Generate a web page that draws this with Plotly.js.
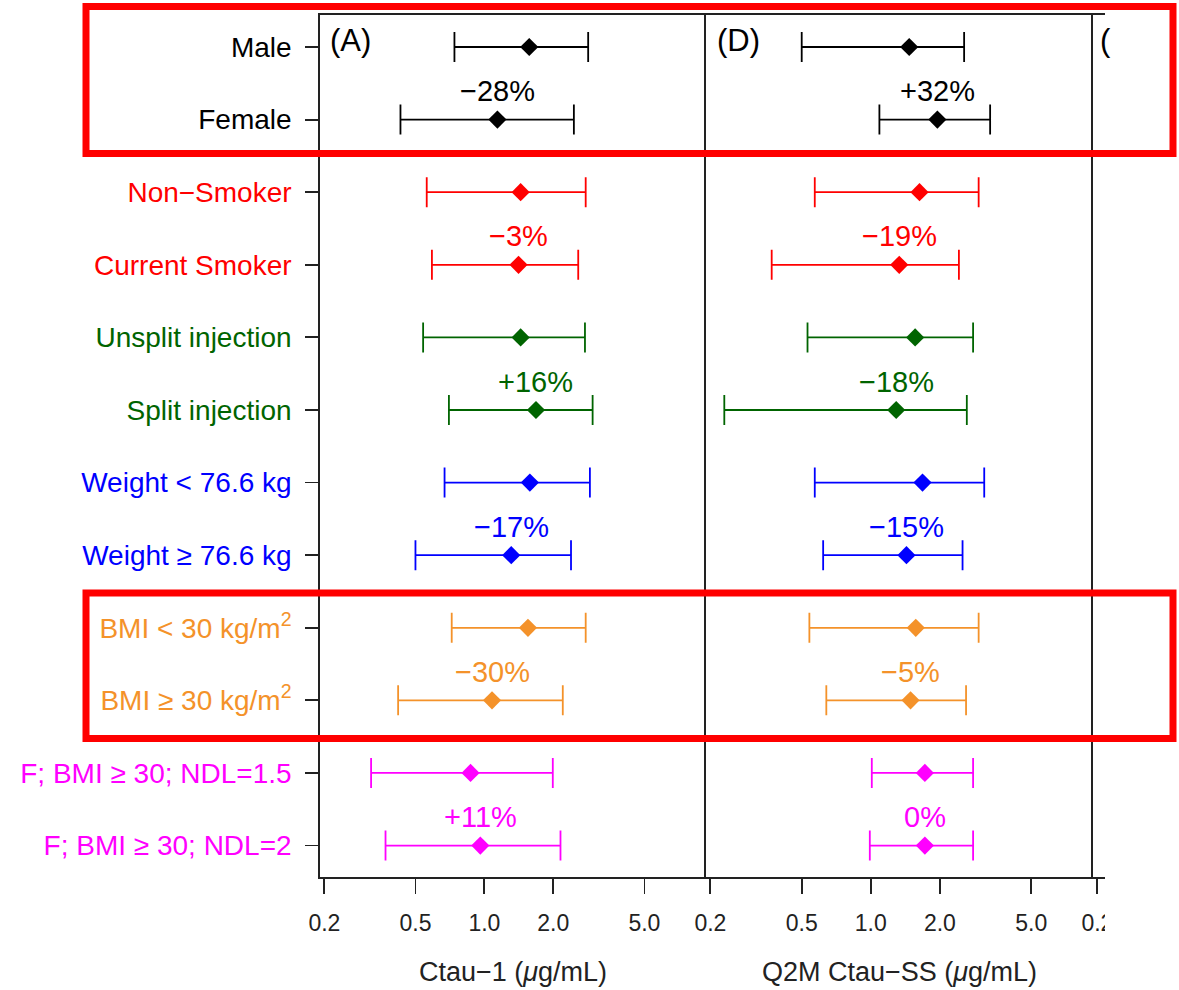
<!DOCTYPE html>
<html>
<head>
<meta charset="utf-8">
<script src="https://cdn.plot.ly/plotly-3.0.1.min.js"></script>
<style>html,body{margin:0;padding:0;background:#fff}#chart{width:1179px;height:990px}</style>
</head>
<body>
<div id="chart"></div>
<script>
// ---- data ----
const categories = ["Male", "Female", "Non\u2212Smoker", "Current Smoker", "Unsplit injection", "Split injection",
  "Weight &lt; 76.6 kg", "Weight \u2265 76.6 kg", "BMI &lt; 30 kg/m<sup>2</sup>", "BMI \u2265 30 kg/m<sup>2</sup>",
  "F; BMI \u2265 30; NDL=1.5", "F; BMI \u2265 30; NDL=2"];
const rowColors = ["#000000", "#000000", "#FF0000", "#FF0000", "#006400", "#006400",
  "#0000FF", "#0000FF", "#F4922A", "#F4922A", "#FF00FF", "#FF00FF"];

// Panel (A): Ctau-1 (ug/mL)
const aCenter = [1.57, 1.14, 1.44, 1.41, 1.44, 1.68, 1.58, 1.31, 1.55, 1.08, 0.87, 0.96];
const aLower  = [0.74, 0.43, 0.56, 0.59, 0.54, 0.70, 0.67, 0.50, 0.72, 0.42, 0.32, 0.37];
const aUpper  = [2.84, 2.46, 2.77, 2.57, 2.75, 2.97, 2.89, 2.39, 2.77, 2.20, 1.99, 2.15];
const aPct    = ["\u221228%", "\u22123%", "+16%", "\u221217%", "\u221230%", "+11%"];

// Panel (D): Q2M Ctau-SS (ug/mL)
const dCenter = [1.47, 1.95, 1.63, 1.33, 1.56, 1.29, 1.68, 1.43, 1.57, 1.49, 1.72, 1.72];
const dLower  = [0.50, 1.09, 0.57, 0.37, 0.53, 0.23, 0.57, 0.62, 0.54, 0.64, 1.01, 0.99];
const dUpper  = [2.55, 3.31, 2.95, 2.42, 2.79, 2.62, 3.12, 2.51, 2.95, 2.60, 2.79, 2.79];
const dPct    = ["+32%", "\u221219%", "\u221218%", "\u221215%", "\u22125%", "0%"];

const xTickVals = [0.2, 0.5, 1, 2, 5];
const xTickText = ["0.2", "0.5", "1.0", "2.0", "5.0"];
const panelLabels = ["(A)", "(D)", "("];
const xTitles = ["Ctau\u22121 (<i>\u03bc</i>g/mL)", "Q2M Ctau\u2212SS (<i>\u03bc</i>g/mL)"];

// ---- build ----
const W = 1179, H = 990;
const FONT = "Liberation Sans, Arial, Helvetica, sans-serif";
const px = v => v / W;
const py = v => 1 - v / H;

const traces = [];
function addPanel(center, lower, upper, xa, ya) {
  categories.forEach((c, i) => {
    traces.push({
      type: "scatter", mode: "markers",
      x: [center[i]], y: [c], xaxis: xa, yaxis: ya,
      marker: {symbol: "diamond", size: 14, color: rowColors[i]},
      error_x: {type: "data", symmetric: false,
        array: [upper[i] - center[i]], arrayminus: [center[i] - lower[i]],
        color: rowColors[i], thickness: 1.8, width: 15},
      showlegend: false, hoverinfo: "x+y"
    });
  });
}
addPanel(aCenter, aLower, aUpper, "x", "y");
addPanel(dCenter, dLower, dUpper, "x2", "y2");
traces.push({type: "scatter", mode: "markers", x: [], y: [], xaxis: "x3", yaxis: "y3", showlegend: false});

const annotations = [];
function addPct(pct, center, xref, yref) {
  pct.forEach((t, k) => {
    const i = 2 * k + 1;
    annotations.push({xref: xref, yref: yref, x: Math.log10(center[i]), y: i - 0.39,
      text: t, showarrow: false, xanchor: "center", yanchor: "middle",
      font: {family: FONT, size: 29, color: rowColors[i]}});
  });
}
addPct(aPct, aCenter, "x", "y");
addPct(dPct, dCenter, "x2", "y2");
[[328, panelLabels[0]], [715, panelLabels[1]], [1098, panelLabels[2]]].forEach(([xp, t]) => {
  annotations.push({xref: "paper", yref: "paper", x: px(xp), y: py(40), text: t, showarrow: false,
    xanchor: "left", yanchor: "middle", font: {family: FONT, size: 31, color: "#000"}});
});

const yDom = [py(877), py(15)];
const yRange = [11.433, -0.441];
const tickText = categories.map((c, i) => `<span style="color:${rowColors[i]}">${c}</span>`);

function xAxis(domain, range, anchor, title, showLabels) {
  return {type: "log", domain: domain, range: range, anchor: anchor,
    tickmode: "array", tickvals: xTickVals, ticktext: xTickText, showticklabels: showLabels,
    ticks: "outside", ticklen: 15, tickwidth: 1.8, tickcolor: "#222", ticklabelstandoff: 10,
    showline: true, mirror: true, linecolor: "#222", linewidth: 1.8,
    showgrid: false, zeroline: false,
    tickfont: {family: FONT, size: 23, color: "#222"},
    title: title ? {text: title, font: {family: FONT, size: 27, color: "#222"}, standoff: 27} : undefined};
}
function yAxis(anchor, main) {
  const ax = {type: "category", categoryorder: "array", categoryarray: categories,
    domain: yDom, range: yRange, anchor: anchor, autorange: false,
    showline: true, linecolor: "#222", linewidth: 1.8, showgrid: false, zeroline: false};
  if (main) {
    Object.assign(ax, {tickmode: "array", tickvals: categories, ticktext: tickText,
      ticks: "outside", ticklen: 13, tickwidth: 1.8, tickcolor: "#222", ticklabelstandoff: 8,
      tickfont: {family: FONT, size: 28}});
  } else {
    Object.assign(ax, {matches: "y", ticks: "", showticklabels: false});
  }
  return ax;
}

const xr = [-0.718, 0.968];
const layout = {
  width: W, height: H, margin: {l: 0, r: 0, t: 0, b: 0},
  paper_bgcolor: "#fff", plot_bgcolor: "rgba(0,0,0,0)", showlegend: false,
  font: {family: FONT},
  xaxis: xAxis([px(320), px(706)], xr, "y", xTitles[0], true),
  xaxis2: xAxis([px(706), px(1093)], xr, "y2", xTitles[1], true),
  xaxis3: xAxis([px(1093), px(1179)], [xr[0], xr[0] + 86 / 229], "y3", null, true),
  yaxis: yAxis("x", true),
  yaxis2: yAxis("x2", false),
  yaxis3: yAxis("x3", false),
  annotations: annotations,
  shapes: [
    {type: "rect", xref: "paper", yref: "paper", x0: px(1105), x1: 1, y0: 0, y1: 1,
      fillcolor: "#fff", line: {width: 0}, layer: "above"},
    {type: "rect", xref: "paper", yref: "paper", x0: px(86), x1: px(1173), y0: py(153.5), y1: py(6.5),
      line: {color: "#FF0000", width: 7}, fillcolor: "rgba(0,0,0,0)", layer: "above"},
    {type: "rect", xref: "paper", yref: "paper", x0: px(86), x1: px(1173), y0: py(738.5), y1: py(593),
      line: {color: "#FF0000", width: 7}, fillcolor: "rgba(0,0,0,0)", layer: "above"}
  ]
};

Plotly.newPlot("chart", traces, layout, {displayModeBar: false, staticPlot: true});
</script>
</body>
</html>
